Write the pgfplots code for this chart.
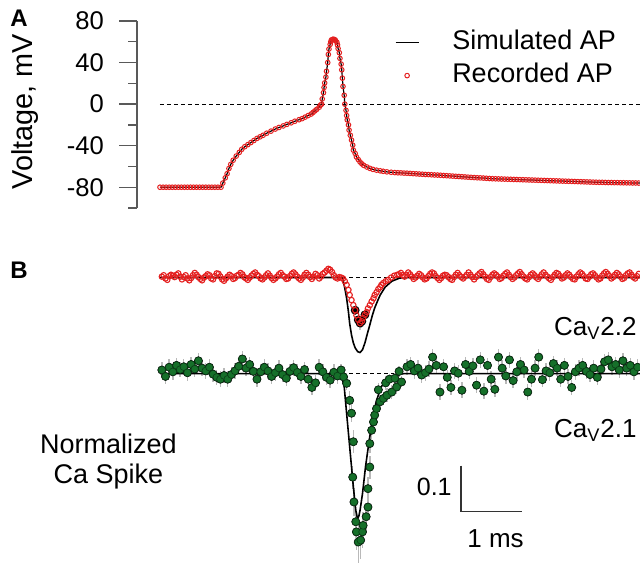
\documentclass[border=0pt]{standalone}
\usepackage{pgfplots}
\pgfplotsset{compat=1.18}
\usepackage{pgfplotstable}
\usepackage{fontspec}
\setmainfont{Liberation Sans}
\definecolor{apred}{RGB}{228,32,32}
\definecolor{dkgreen}{RGB}{22,112,42}
\definecolor{dkgreenedge}{RGB}{10,60,22}
\pgfplotsset{simleg/.style={legend image code/.code={\draw[##1] (2.8pt,0pt) -- (14.3pt,0pt);}}}

% Panel A: action potential (t in ms, V in mV)
\pgfplotstableread{
t v
0.00 -80
0.05 -80
0.10 -80
0.15 -80
0.20 -80
0.25 -80
0.30 -80
0.35 -80
0.40 -80
0.45 -80
0.50 -80
0.55 -80
0.60 -80
0.65 -80
0.70 -80
0.75 -80
0.80 -80
0.85 -80
0.90 -80
0.95 -80
1.00 -80
1.03 -76
1.07 -71
1.10 -67
1.13 -62
1.16 -58
1.20 -54
1.25 -50
1.30 -46.5
1.34 -43.5
1.39 -41
1.44 -39
1.49 -37
1.54 -35
1.59 -33
1.64 -31.5
1.69 -30
1.75 -28
1.82 -26
1.89 -24
1.95 -22.5
2.02 -21
2.08 -19.5
2.15 -18
2.21 -16.5
2.28 -15
2.33 -14
2.38 -12.5
2.43 -11
2.48 -9.5
2.51 -8
2.54 -6.5
2.57 -5
2.61 -3
2.63 -1
2.65 0
2.66 5
2.68 11
2.69 16
2.70 20.4
2.72 26
2.73 31.6
2.75 40
2.76 47.8
2.77 53
2.79 57.5
2.80 60
2.81 61.7
2.83 62.3
2.84 62.4
2.86 62.2
2.87 61.7
2.88 61
2.90 59.5
2.91 57
2.92 53.5
2.94 49.5
2.95 44
2.97 38.5
2.98 33
2.99 25
3.00 17
3.02 8.5
3.03 0
3.05 -6
3.06 -11
3.07 -15.2
3.09 -20
3.10 -25
3.12 -30
3.14 -34.6
3.16 -39.5
3.17 -44.3
3.20 -47.5
3.22 -50.8
3.25 -53.3
3.28 -55.7
3.31 -57.5
3.34 -59
3.39 -60.5
3.44 -61.8
3.49 -62.8
3.55 -63.6
3.61 -64.2
3.66 -64.7
3.72 -65.2
3.79 -65.6
3.85 -65.9
3.90 -66.1
3.95 -66.2
4.00 -66.4
4.05 -66.5
4.10 -66.7
4.15 -66.9
4.20 -67.1
4.25 -67.3
4.30 -67.5
4.35 -67.7
4.40 -67.8
4.45 -68.0
4.50 -68.2
4.55 -68.3
4.60 -68.5
4.65 -68.7
4.70 -68.9
4.75 -69.1
4.80 -69.3
4.85 -69.5
4.90 -69.7
4.95 -69.9
5.00 -70.1
5.05 -70.3
5.10 -70.5
5.15 -70.7
5.20 -70.9
5.25 -71.0
5.30 -71.2
5.35 -71.4
5.40 -71.6
5.45 -71.8
5.50 -71.9
5.55 -72.0
5.60 -72.1
5.65 -72.2
5.70 -72.3
5.75 -72.4
5.80 -72.5
5.85 -72.6
5.90 -72.7
5.95 -72.8
6.00 -72.9
6.05 -73.0
6.10 -73.1
6.15 -73.2
6.20 -73.3
6.25 -73.4
6.30 -73.5
6.35 -73.6
6.40 -73.7
6.45 -73.8
6.50 -73.9
6.55 -74.0
6.60 -74.1
6.65 -74.2
6.70 -74.3
6.75 -74.4
6.80 -74.5
6.85 -74.6
6.90 -74.7
6.95 -74.8
7.00 -74.9
7.05 -75.0
7.10 -75.1
7.15 -75.2
7.20 -75.3
7.25 -75.3
7.30 -75.4
7.35 -75.5
7.40 -75.5
7.45 -75.6
7.50 -75.6
7.55 -75.7
7.60 -75.7
7.65 -75.8
7.70 -75.8
7.75 -75.9
7.80 -75.9
7.85 -76.0
7.90 -76.0
}\apdata

% Panel B, CaV2.2 recorded (normalized, baseline 0)
\pgfplotstableread{
t v
0.03 0.002
0.06 0.005
0.09 -0.002
0.12 -0.005
0.15 0.003
0.18 0.006
0.21 0.004
0.24 0.001
0.27 0.006
0.30 0.009
0.33 0.002
0.36 -0.004
0.39 0.001
0.42 0.005
0.45 -0.002
0.48 -0.006
0.51 -0.001
0.54 0.005
0.57 0.010
0.60 0.006
0.63 0.001
0.66 -0.003
0.69 -0.006
0.72 0.000
0.75 0.003
0.78 0.007
0.81 0.005
0.84 -0.002
0.87 -0.004
0.90 0.003
0.93 0.009
0.96 0.008
0.99 0.002
1.02 -0.004
1.05 -0.007
1.08 -0.002
1.11 0.002
1.14 0.006
1.17 0.003
1.20 -0.003
1.23 -0.001
1.26 0.004
1.29 0.006
1.32 0.010
1.35 0.007
1.38 0.001
1.41 -0.002
1.44 -0.005
1.47 0.000
1.50 0.004
1.53 0.008
1.56 0.011
1.59 0.006
1.62 0.003
1.65 -0.002
1.68 -0.004
1.71 0.000
1.74 0.005
1.77 0.009
1.80 0.004
1.83 -0.001
1.86 -0.005
1.89 -0.002
1.92 0.002
1.95 0.007
1.98 0.010
2.01 0.005
2.04 0.002
2.07 -0.003
2.10 -0.002
2.13 0.003
2.16 0.008
2.19 0.011
2.22 0.007
2.25 0.002
2.28 -0.002
2.31 -0.005
2.34 0.000
2.37 0.006
2.40 0.010
2.43 0.006
2.46 0.001
2.49 -0.003
2.52 0.002
2.55 0.008
2.58 0.005
2.61 -0.002
2.64 0.002
2.67 0.008
2.70 0.011
2.73 0.015
2.76 0.019
2.79 0.017
2.82 0.012
2.85 0.005
2.88 0.000
2.91 -0.002
2.94 0.001
2.97 0.000
3.00 -0.002
3.03 -0.008
3.06 -0.016
3.09 -0.027
3.11 -0.038
3.14 -0.049
3.17 -0.060
3.20 -0.071
3.22 -0.082
3.25 -0.092
3.28 -0.099
3.31 -0.095
3.33 -0.088
3.36 -0.081
3.39 -0.075
3.41 -0.067
3.44 -0.060
3.47 -0.052
3.50 -0.045
3.52 -0.038
3.55 -0.032
3.58 -0.025
3.61 -0.021
3.63 -0.016
3.66 -0.012
3.70 -0.008
3.74 -0.005
3.79 0.000
3.84 0.004
3.89 0.006
3.92 0.007
3.95 0.010
3.98 0.005
4.01 0.002
4.04 0.006
4.07 0.011
4.10 0.007
4.13 0.002
4.16 -0.003
4.19 0.000
4.22 0.004
4.25 0.008
4.28 0.005
4.31 0.000
4.34 -0.004
4.37 -0.002
4.40 0.003
4.43 0.008
4.46 0.011
4.49 0.009
4.52 0.003
4.55 -0.001
4.58 -0.005
4.61 -0.001
4.64 0.004
4.67 0.006
4.70 0.005
4.73 0.001
4.76 -0.003
4.79 -0.005
4.82 0.001
4.85 0.006
4.88 0.010
4.91 0.005
4.94 0.001
4.97 -0.002
5.00 0.002
5.03 0.006
5.06 0.011
5.09 0.006
5.12 0.001
5.15 -0.004
5.18 0.001
5.21 0.005
5.24 0.009
5.27 0.012
5.30 0.007
5.33 0.002
5.36 -0.003
5.39 -0.005
5.42 0.001
5.45 0.006
5.48 0.009
5.51 0.006
5.54 0.002
5.57 -0.003
5.60 -0.001
5.63 0.004
5.66 0.008
5.69 0.011
5.72 0.006
5.75 0.001
5.78 -0.003
5.81 0.000
5.84 0.005
5.87 0.009
5.90 0.012
5.93 0.007
5.96 0.002
5.99 -0.002
6.02 -0.004
6.05 0.001
6.08 0.006
6.11 0.009
6.14 0.005
6.17 0.000
6.20 -0.003
6.23 0.002
6.26 0.007
6.29 0.011
6.32 0.006
6.35 0.002
6.38 -0.002
6.41 -0.005
6.44 0.001
6.47 0.006
6.50 0.010
6.53 0.008
6.56 0.003
6.59 -0.002
6.62 0.000
6.65 0.005
6.68 0.009
6.71 0.006
6.74 0.001
6.77 -0.003
6.80 -0.004
6.83 0.002
6.86 0.007
6.89 0.011
6.92 0.008
6.95 0.003
6.98 -0.002
7.01 -0.003
7.04 0.002
7.07 0.007
7.10 0.009
7.13 0.005
7.16 0.000
7.19 -0.004
7.22 -0.002
7.25 0.004
7.28 0.009
7.31 0.012
7.34 0.008
7.37 0.003
7.40 -0.002
7.43 0.001
7.46 0.006
7.49 0.010
7.52 0.007
7.55 0.002
7.58 -0.003
7.61 -0.001
7.64 0.005
7.67 0.009
7.70 0.011
7.73 0.006
7.76 0.001
7.79 -0.002
7.82 0.003
7.85 0.008
}\toprec

% CaV2.2 recorded, error bars near the spike (t v e)
\pgfplotstableread{
t v e
3.20 -0.071 0.010
3.25 -0.092 0.014
3.28 -0.099 0.016
3.31 -0.095 0.014
3.36 -0.081 0.010
}\topdip

% CaV2.2 simulated
\pgfplotstableread{
t v
0.00 0
2.98 0
3.00 -0.005
3.03 -0.023
3.06 -0.045
3.09 -0.075
3.11 -0.100
3.14 -0.125
3.17 -0.142
3.20 -0.153
3.24 -0.161
3.28 -0.163
3.32 -0.157
3.36 -0.142
3.40 -0.122
3.44 -0.103
3.48 -0.083
3.52 -0.066
3.57 -0.050
3.61 -0.038
3.69 -0.021
3.80 -0.008
3.93 -0.001
4.10 0
7.87 0
}\topsim

% CaV2.1 recorded, baseline segments
\pgfplotstableread{
t v
0.03 0.008
0.09 -0.006
0.15 0.014
0.21 0.004
0.27 0.018
0.33 0.009
0.39 0.015
0.45 0.002
0.51 0.020
0.57 0.010
0.63 0.028
0.69 0.012
0.75 0.006
0.81 0.014
0.87 -0.001
0.93 -0.008
0.99 -0.012
1.05 -0.004
1.11 -0.012
1.17 -0.002
1.23 0.006
1.29 0.016
1.35 0.032
1.41 0.012
1.47 0.020
1.53 0.005
1.59 -0.012
1.65 0.004
1.71 0.014
1.77 0.006
1.83 -0.006
1.89 0.002
1.95 0.012
2.01 -0.002
2.07 -0.010
2.13 0.005
2.19 0.013
2.25 0.003
2.31 -0.006
2.37 0.009
2.43 -0.012
2.49 -0.030
2.55 -0.020
2.61 0.014
2.67 0.004
2.73 -0.008
2.79 -0.014
2.85 0.003
2.91 -0.005
4.05 0.015
4.11 0.020
4.17 0.006
4.23 0.012
4.29 -0.003
4.35 0.002
4.41 0.010
4.47 0.036
4.53 0.018
4.59 -0.040
4.65 0.015
4.71 -0.008
4.77 -0.030
4.83 0.006
4.89 0.001
4.95 -0.036
5.01 0.020
5.07 0.005
5.13 0.017
5.19 -0.025
5.25 0.030
5.31 -0.038
5.37 0.018
5.43 -0.012
5.49 -0.034
5.55 0.036
5.61 0.012
5.67 -0.005
5.73 0.030
5.79 -0.015
5.85 0.004
5.91 0.020
5.97 0.008
6.03 -0.040
6.09 -0.012
6.15 0.012
6.21 0.036
6.27 -0.013
6.33 0.006
6.39 0.002
6.45 0.022
6.51 0.012
6.57 -0.012
6.63 0.018
6.69 -0.006
6.75 -0.030
6.81 0.004
6.87 0.012
6.93 0.018
6.99 0.005
7.05 -0.002
7.11 0.012
7.17 -0.008
7.23 0.010
7.29 0.026
7.35 0.030
7.41 0.015
7.47 0.020
7.53 0.008
7.59 0.028
7.65 0.012
7.71 0.018
7.77 0.004
7.83 0.014
}\botflat

% CaV2.1 recorded, spike (t v error)
\pgfplotstableread{
t v e
2.97 0.008 0.012
3.01 -0.007 0.012
3.06 -0.021 0.015
3.11 -0.058 0.020
3.14 -0.086 0.020
3.16 -0.225 0.025
3.17 -0.148 0.025
3.18 -0.279 0.030
3.21 -0.322 0.035
3.22 -0.344 0.040
3.25 -0.366 0.045
3.29 -0.362 0.040
3.32 -0.344 0.035
3.33 -0.330 0.030
3.38 -0.311 0.030
3.41 -0.290 0.025
3.41 -0.250 0.025
3.44 -0.203 0.025
3.44 -0.152 0.020
3.47 -0.123 0.020
3.50 -0.105 0.020
3.52 -0.090 0.018
3.55 -0.076 0.018
3.58 -0.035 0.015
3.61 -0.061 0.015
3.66 -0.054 0.015
3.70 -0.020 0.015
3.72 -0.047 0.015
3.76 -0.012 0.012
3.80 -0.040 0.015
3.85 -0.010 0.012
3.88 -0.029 0.015
3.92 0.005 0.012
3.96 -0.018 0.012
}\botdip

% CaV2.1 simulated
\pgfplotstableread{
t v
0.00 0
2.96 0
2.98 -0.007
3.02 -0.028
3.05 -0.072
3.09 -0.130
3.13 -0.188
3.17 -0.246
3.21 -0.297
3.23 -0.310
3.24 -0.315
3.26 -0.310
3.28 -0.297
3.32 -0.261
3.37 -0.202
3.43 -0.145
3.49 -0.093
3.55 -0.058
3.63 -0.028
3.72 -0.014
3.82 -0.005
3.99 0
7.87 0
}\botsim

\begin{document}
\begin{tikzpicture}
\useasboundingbox (0,0) rectangle (320pt,284pt);

% ---------- Panel A ----------
\begin{axis}[
  at={(68.5pt,180pt)}, anchor=south west, scale only axis,
  width=251.5pt, height=93.5pt,
  xmin=-0.377, xmax=7.87, ymin=-100, ymax=80,
  axis x line=none, axis y line*=left,
  ytick={-80,-40,0,40,80}, yticklabels={-80,-40,0,40,80},
  minor ytick={-100,-60,-20,20,60},
  tick align=outside, major tick length=9pt, minor tick length=4.5pt,
  y axis line style={black!65, line width=0.7pt},
  tick style={black!65, line width=0.7pt},
  yticklabel style={font=\fontsize{12.8}{15}\selectfont, xshift=-4pt},
  legend cell align=left,
  legend style={at={(0.513,0.954)}, anchor=north west, draw=none, fill=none,
    inner sep=0pt, outer sep=0pt,
    font=\fontsize{13.5}{16}\selectfont,
    nodes={inner sep=0pt, text height=10pt, text depth=3pt},
    row sep=3.5pt,
    /tikz/every odd column/.append style={column sep=16.5pt}},
]
\addplot[black, line width=0.6pt, dash pattern=on 2pt off 1.5pt, forget plot] coordinates {(0,0) (7.87,0)};
\addplot[black, line width=0.6pt, simleg] table[x=t,y=v]{\apdata};
\addlegendentry{Simulated AP}
\addplot[only marks, mark=o, mark size=1.15pt, color=apred, mark options={line width=0.5pt}] table[x=t,y=v]{\apdata};
\addlegendentry{Recorded AP}
\end{axis}

% ---------- Panel B ----------
\begin{axis}[
  at={(80pt,1.5pt)}, anchor=south west, scale only axis,
  width=240pt, height=155pt,
  xmin=0, xmax=7.87, ymin=-0.416, ymax=0.258,
  axis lines=none,
]
\addplot[black, line width=0.6pt, dash pattern=on 2pt off 1.5pt] coordinates {(0,0.209) (7.87,0.209)};
\addplot[black, line width=0.6pt, dash pattern=on 2pt off 1.5pt] coordinates {(0,0) (7.87,0)};
% CaV2.2: simulated beneath, error bars, then recorded circles
\addplot[black, line width=0.8pt] table[x=t, y expr=\thisrow{v}+0.209]{\topsim};
\addplot[only marks, mark=none,
  error bars/.cd, y dir=both, y explicit, error mark=none,
  error bar style={gray!45, line width=0.6pt}]
  table[x=t, y expr=\thisrow{v}+0.209, y error=e]{\topdip};
\addplot[only marks, mark=o, mark size=1.35pt, color=apred, mark options={line width=0.55pt}]
  table[x=t, y expr=\thisrow{v}+0.209]{\toprec};
% CaV2.1 recorded: error bars, then dots
\addplot[only marks, mark=none,
  error bars/.cd, y dir=both, y fixed=0.017, error mark=none,
  error bar style={gray!55, line width=0.7pt}]
  table[x=t,y=v]{\botflat};
\addplot[only marks, mark=none,
  error bars/.cd, y dir=both, y explicit, error mark=none,
  error bar style={gray!55, line width=0.7pt}]
  table[x=t,y=v,y error=e]{\botdip};
\addplot[only marks, mark=*, mark size=1.9pt,
  mark options={fill=dkgreen, draw=dkgreenedge, line width=0.3pt}]
  table[x=t,y=v]{\botflat};
\addplot[only marks, mark=*, mark size=1.9pt,
  mark options={fill=dkgreen, draw=dkgreenedge, line width=0.3pt}]
  table[x=t,y=v]{\botdip};
% CaV2.1 simulated
\addplot[black, line width=0.8pt] table[x=t,y=v]{\botsim};
% scale bar: 1 ms, 0.1
\addplot[black!80, line width=0.75pt] coordinates {(4.934,-0.2) (4.934,-0.3) (5.934,-0.3)};
\end{axis}

% ---------- text ----------
\node[anchor=base west, inner sep=0pt, font=\bfseries\fontsize{12}{14}\selectfont] at (5pt,270.6pt) {A};
\node[anchor=base west, inner sep=0pt, font=\bfseries\fontsize{12}{14}\selectfont] at (5pt,145pt) {B};
\node[anchor=base, rotate=90, inner sep=0pt, font=\fontsize{14.4}{16}\selectfont] at (16.3pt,228.25pt) {Voltage, mV};
\node[anchor=base east, inner sep=0pt, font=\fontsize{13}{15}\selectfont] at (318.5pt,116.5pt) {Ca\textsubscript{V}2.2};
\node[anchor=base east, inner sep=0pt, font=\fontsize{13}{15}\selectfont] at (318.5pt,65.5pt) {Ca\textsubscript{V}2.1};
\node[anchor=center, align=center, inner sep=0pt, font=\fontsize{13.5}{15}\selectfont] at (54.25pt,53.25pt) {Normalized\\Ca Spike};
\node[anchor=base east, inner sep=0pt, font=\fontsize{12.5}{15}\selectfont] at (226pt,36.5pt) {0.1};
\node[anchor=base, inner sep=0pt, font=\fontsize{13}{15}\selectfont] at (247.75pt,10.5pt) {1 ms};
\end{tikzpicture}
\end{document}
